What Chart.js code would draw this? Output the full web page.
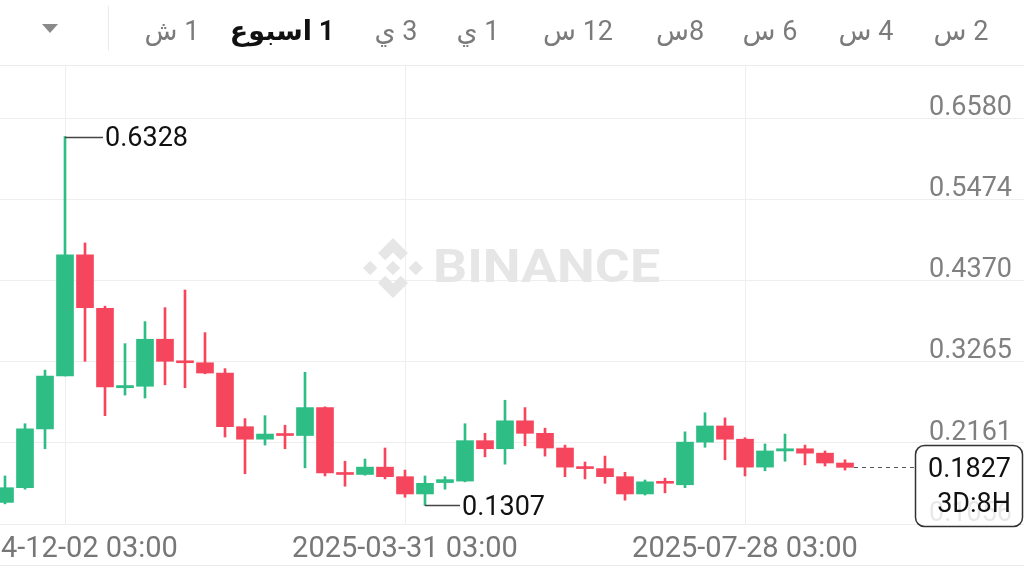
<!DOCTYPE html>
<html><head><meta charset="utf-8">
<script src="https://cdn.jsdelivr.net/npm/chart.js@4.4.1/dist/chart.umd.min.js"></script>
<style>
html,body{margin:0;padding:0;background:#fff;width:1024px;height:576px;overflow:hidden;}
#wrap{position:relative;width:1024px;height:576px;}
canvas{position:absolute;left:0;top:0;}
.tb{position:absolute;top:12px;font-family:Roboto,'DejaVu Sans',sans-serif;font-size:27px;color:#7b7b7b;white-space:nowrap;transform:translateX(-50%);line-height:38px;}
.tb.sel{color:#111;font-weight:bold;}
</style></head>
<body>
<div id="wrap"><canvas id="c" width="1024" height="576"></canvas><div id="toolbar"></div></div>
<script>
// ---- data ----
const dates = ['2024-11-11','2024-11-18','2024-11-25','2024-12-02','2024-12-09','2024-12-16','2024-12-23','2024-12-30',
 '2025-01-06','2025-01-13','2025-01-20','2025-01-27','2025-02-03','2025-02-10','2025-02-17','2025-02-24',
 '2025-03-03','2025-03-10','2025-03-17','2025-03-24','2025-03-31','2025-04-07','2025-04-14','2025-04-21',
 '2025-04-28','2025-05-05','2025-05-12','2025-05-19','2025-05-26','2025-06-02','2025-06-09','2025-06-16',
 '2025-06-23','2025-06-30','2025-07-07','2025-07-14','2025-07-21','2025-07-28','2025-08-04','2025-08-11',
 '2025-08-18','2025-08-25','2025-09-01'];
const opens  = [0.135,0.155,0.235,0.307,0.472,0.399,0.291,0.293,0.357,0.327,0.325,0.311,0.238,0.221,0.228,0.226,
 0.264,0.175,0.173,0.183,0.170,0.1465,0.162,0.164,0.219,0.208,0.246,0.229,0.209,0.183,0.181,0.170,
 0.1465,0.163,0.159,0.217,0.239,0.221,0.183,0.205,0.208,0.202,0.1886];
const highs  = [0.171,0.242,0.315,0.6328,0.488,0.402,0.351,0.381,0.400,0.424,0.366,0.317,0.249,0.253,0.240,0.312,
 0.265,0.191,0.194,0.209,0.179,0.171,0.170,0.242,0.229,0.274,0.264,0.236,0.213,0.190,0.198,0.176,
 0.1655,0.168,0.231,0.257,0.250,0.223,0.2145,0.228,0.213,0.205,0.193];
const lows   = [0.133,0.153,0.208,0.307,0.327,0.253,0.281,0.277,0.295,0.291,0.310,0.224,0.174,0.213,0.208,0.182,
 0.171,0.157,0.172,0.167,0.142,0.1307,0.153,0.163,0.197,0.187,0.212,0.198,0.170,0.167,0.161,0.138,
 0.145,0.148,0.155,0.210,0.193,0.171,0.178,0.191,0.186,0.1845,0.179];
const closes = [0.155,0.235,0.307,0.472,0.400,0.292,0.294,0.357,0.327,0.325,0.311,0.238,0.221,0.228,0.226,0.264,
 0.175,0.173,0.183,0.170,0.1465,0.161,0.166,0.219,0.208,0.246,0.229,0.209,0.183,0.181,0.170,0.1465,
 0.163,0.161,0.217,0.239,0.221,0.183,0.205,0.208,0.202,0.1886,0.1827];
const yTickValues = [0.6580,0.5474,0.4370,0.3265,0.2161,0.1056];
const xTickDates = ['2024-12-02','2025-03-31','2025-07-28'];
const xTickTime = '03:00';
const timeframes = ['2 س','4 س','6 س','8س','12 س','1 ي','3 ي','1 اسبوع','1 ش'];
const activeTimeframe = '1 اسبوع';
const lastPrice = 0.1827;
const countdown = '3D:8H';
const watermark = 'BINANCE';

// ---- layout ----
const tbCenters = [961,866,770,680,578,478,396,282,172];
const FONT = 'Roboto, "DejaVu Sans", sans-serif';
const UP = '#2ebd85', DOWN = '#f6465d';

const tb = document.getElementById('toolbar');
timeframes.forEach((t,i)=>{
  const s = document.createElement('span');
  s.className = 'tb' + (t===activeTimeframe?' sel':'');
  s.dir = 'rtl';
  s.textContent = t;
  s.style.left = tbCenters[i] + 'px';
  tb.appendChild(s);
});

const idx = dates.map((d,i)=>i);
const xTickIdx = xTickDates.map(d=>dates.indexOf(d));
const colors = idx.map(i=> closes[i] >= opens[i] ? UP : DOWN);
const bodies = idx.map(i=>({x:i, y:[opens[i], closes[i]]}));
const wicks  = idx.map(i=>({x:i, y:[lows[i], highs[i]]}));

function line(ctx,x1,y1,x2,y2){ctx.beginPath();ctx.moveTo(x1,y1);ctx.lineTo(x2,y2);ctx.stroke();}

const overlay = {
  id:'overlay',
  beforeDraw(chart){
    const ctx = chart.ctx;
    ctx.save();
    ctx.fillStyle = '#fff';
    ctx.fillRect(0,0,chart.width,chart.height);
    ctx.restore();
  },
  beforeDatasetsDraw(chart){
    const ctx = chart.ctx;
    ctx.save();
    ctx.fillStyle = '#e6e6e6';
    const cx = 393, cy = 268, R = 30;
    const diamond = (x,y,h)=>{ctx.beginPath();ctx.moveTo(x,y-h);ctx.lineTo(x+h,y);ctx.lineTo(x,y+h);ctx.lineTo(x-h,y);ctx.closePath();ctx.fill();};
    diamond(cx,cy,0.24*R);
    diamond(cx-0.76*R,cy,0.24*R);
    diamond(cx+0.76*R,cy,0.24*R);
    [-1,1].forEach(sg=>{
      ctx.beginPath();
      ctx.moveTo(cx, cy+sg*R);
      ctx.lineTo(cx+0.5*R, cy+sg*0.5*R);
      ctx.lineTo(cx+0.26*R, cy+sg*0.26*R);
      ctx.lineTo(cx, cy+sg*0.52*R);
      ctx.lineTo(cx-0.26*R, cy+sg*0.26*R);
      ctx.lineTo(cx-0.5*R, cy+sg*0.5*R);
      ctx.closePath(); ctx.fill();
    });
    ctx.font = 'bold 46px ' + FONT;
    ctx.textBaseline = 'middle'; ctx.textAlign = 'left';
    const w = ctx.measureText(watermark).width;
    ctx.translate(433, 270);
    ctx.scale(227/w, 1);
    ctx.fillText(watermark, 0, 0);
    ctx.restore();
  },
  afterDraw(chart){
    const ctx = chart.ctx;
    const xs = chart.scales.x, ys = chart.scales.y;
    ctx.save();
    // frame lines
    ctx.strokeStyle = '#ebebeb'; ctx.lineWidth = 1;
    line(ctx,0,65.5,1024,65.5);
    line(ctx,0,565.5,1024,565.5);
    line(ctx,108.5,6,108.5,51);
    // dropdown triangle
    ctx.fillStyle = '#8a8a8a';
    ctx.beginPath(); ctx.moveTo(42,24); ctx.lineTo(58,24); ctx.lineTo(50,33); ctx.closePath(); ctx.fill();
    // y labels
    ctx.font = '27px ' + FONT;
    ctx.fillStyle = '#808080'; ctx.textAlign = 'right'; ctx.textBaseline = 'middle';
    yTickValues.forEach(v=> ctx.fillText(v.toFixed(4), 1012, ys.getPixelForValue(v) - 10));
    // x labels
    ctx.font = '29px ' + FONT;
    ctx.fillStyle = '#777'; ctx.textAlign = 'center';
    xTickIdx.forEach((v,k)=> ctx.fillText(xTickDates[k] + ' ' + xTickTime, xs.getPixelForValue(v), 550));
    // high / low annotations
    ctx.font = '27px ' + FONT;
    let hi = 0, lo = 0;
    idx.forEach(i=>{ if (highs[i] > highs[hi]) hi = i; if (lows[i] < lows[lo]) lo = i; });
    ctx.strokeStyle = '#444'; ctx.lineWidth = 1.5; ctx.fillStyle = '#111'; ctx.textAlign = 'left';
    const hx = Math.round(xs.getPixelForValue(hi)), hy = Math.round(ys.getPixelForValue(highs[hi])) + 0.5;
    line(ctx, hx, hy, hx + 38, hy);
    ctx.fillText(highs[hi].toFixed(4), hx + 40, hy + 2);
    const lx = Math.round(xs.getPixelForValue(lo)), ly = Math.round(ys.getPixelForValue(lows[lo])) - 0.5;
    line(ctx, lx, ly, lx + 35, ly);
    ctx.fillText(lows[lo].toFixed(4), lx + 37, ly + 3);
    // last price dashed line
    const last = dates.length - 1;
    const py = Math.round(ys.getPixelForValue(lastPrice)) + 0.5;
    ctx.setLineDash([4,4]); ctx.strokeStyle = '#555'; ctx.lineWidth = 1.2;
    line(ctx, xs.getPixelForValue(last) + 9, py, 915, py);
    ctx.setLineDash([]);
    // price box
    ctx.fillStyle = 'rgba(255,255,255,0.82)';
    ctx.strokeStyle = '#333'; ctx.lineWidth = 1.5;
    ctx.beginPath(); ctx.roundRect(915.5, 445.5, 107, 81, 9); ctx.fill(); ctx.stroke();
    ctx.fillStyle = '#111'; ctx.textAlign = 'right';
    ctx.fillText(lastPrice.toFixed(4), 1011, 470);
    ctx.fillText(countdown, 1011, 505);
    ctx.restore();
  }
};

new Chart(document.getElementById('c'), {
  type: 'bar',
  data: { datasets: [
    { label:'body', data: bodies, backgroundColor: colors, borderWidth: 0, barThickness: 17, grouped: false, minBarLength: 2, order: 0 },
    { label:'wick', data: wicks, backgroundColor: colors, borderWidth: 0, barThickness: 2, grouped: false, order: 1 }
  ]},
  options: {
    responsive: false, animation: false, devicePixelRatio: 1,
    layout: { padding: { top: 65, left: 0, right: 0, bottom: 0 } },
    plugins: { legend: { display: false }, tooltip: { enabled: false } },
    scales: {
      x: { type: 'linear', min: -0.25, max: 50.95, offset: false,
           grid: { color: '#eeeeee', drawTicks: false, offset: false }, border: { display: false },
           ticks: { display: false },
           afterBuildTicks: s => { s.ticks = xTickIdx.map(v => ({ value: v })); },
           afterFit: s => { s.height = 51; s.paddingLeft = 0; s.paddingRight = 0; } },
      y: { position: 'right', min: 0.10426, max: 0.73011,
           grid: { color: '#eeeeee', drawTicks: false }, border: { display: false },
           ticks: { display: false },
           afterBuildTicks: s => { s.ticks = yTickValues.map(v => ({ value: v })); },
           afterFit: s => { s.width = 0; s.paddingTop = 0; s.paddingBottom = 0; } }
    }
  },
  plugins: [overlay]
});
</script>
</body></html>
